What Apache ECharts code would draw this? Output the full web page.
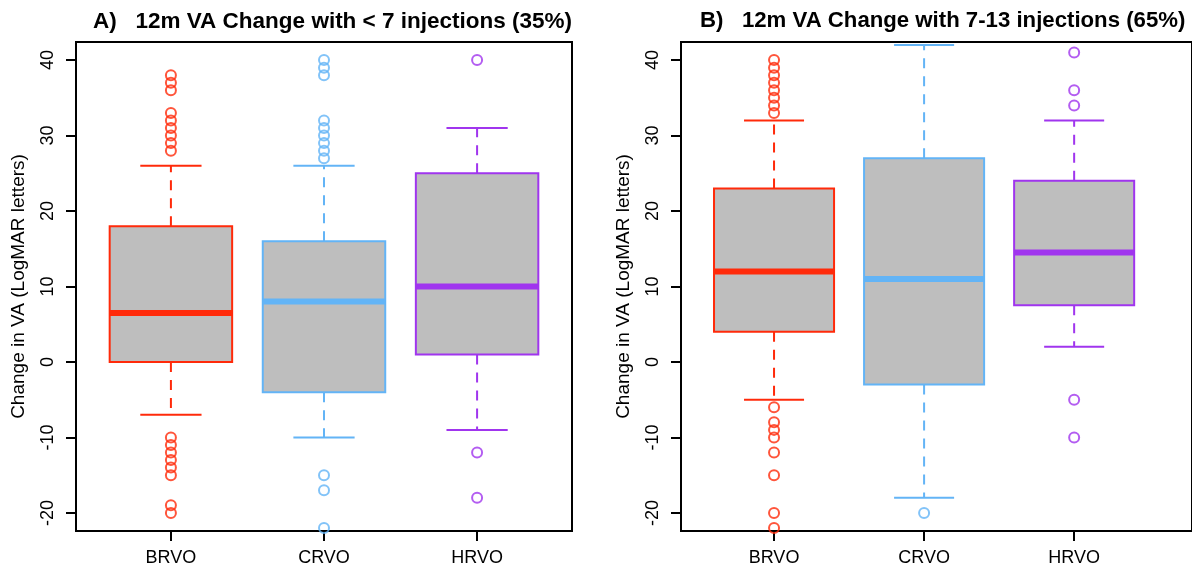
<!DOCTYPE html>
<html>
<head>
<meta charset="utf-8">
<script src="https://cdn.jsdelivr.net/npm/echarts@6/dist/echarts.min.js"></script>
<style>
html, body { margin: 0; padding: 0; background: #fff; }
#chart { width: 1192px; height: 572px; }
</style>
</head>
<body>
<div id="chart"></div>
<script>
const categories = ['BRVO', 'CRVO', 'HRVO'];
const yTicks = [-20, -10, 0, 10, 20, 30, 40];

// [whisker low, Q1, median, Q3, whisker high]
const statsA = [[-7, 0, 6.5, 18, 26], [-10, -4, 8, 16, 26], [-9, 1, 10, 25, 31]];
const statsB = [[-5, 4, 12, 23, 32], [-18, -3, 11, 27, 42], [2, 7.5, 14.5, 24, 32]];

const outA_BRVO = [38, 37, 36, 33, 32, 31, 30, 29, 28, -10, -11, -12, -13, -14, -15, -19, -20];
const outA_CRVO = [40, 39, 38, 32, 31, 30, 29, 28, 27, -15, -17, -22];
const outA_HRVO = [40, -12, -18];
const outB_BRVO = [40, 39, 38, 37, 36, 35, 34, 33, -6, -8, -9, -10, -12, -15, -20, -22];
const outB_CRVO = [-20];
const outB_HRVO = [41, 36, 34, -5, -10];

const colors = ['#ff2a0a', '#63b4f6', '#a035ee'];
const font = 'Liberation Sans, Arial, sans-serif';

const chart = echarts.init(document.getElementById('chart'));

function renderBox(params, api) {
    const x = api.value(0);
    const lo = api.value(1), q1 = api.value(2), med = api.value(3), q3 = api.value(4), hi = api.value(5);
    const c = colors[params.dataIndex];
    const pLo = api.coord([x, lo]), pQ1 = api.coord([x, q1]), pMed = api.coord([x, med]);
    const pQ3 = api.coord([x, q3]), pHi = api.coord([x, hi]);
    const bl = api.coord([x - 0.4, q3])[0], br = api.coord([x + 0.4, q3])[0];
    const cl = api.coord([x - 0.2, hi])[0], cr = api.coord([x + 0.2, hi])[0];
    const dash = { stroke: c, lineWidth: 2, lineDash: [10, 8] };
    const solid = { stroke: c, lineWidth: 2 };
    return {
        type: 'group',
        children: [
            { type: 'line', shape: { x1: pQ3[0], y1: pQ3[1], x2: pHi[0], y2: pHi[1] }, style: dash },
            { type: 'line', shape: { x1: pQ1[0], y1: pQ1[1], x2: pLo[0], y2: pLo[1] }, style: dash },
            { type: 'line', shape: { x1: cl, y1: pHi[1], x2: cr, y2: pHi[1] }, style: solid },
            { type: 'line', shape: { x1: cl, y1: pLo[1], x2: cr, y2: pLo[1] }, style: solid },
            { type: 'rect', shape: { x: bl, y: pQ3[1], width: br - bl, height: pQ1[1] - pQ3[1] },
              style: { fill: '#bebebe', stroke: c, lineWidth: 2 } },
            { type: 'line', shape: { x1: bl, y1: pMed[1], x2: br, y2: pMed[1] }, style: { stroke: c, lineWidth: 6 } }
        ]
    };
}

function outSeries(values, cat, idx) {
    return {
        type: 'scatter',
        xAxisIndex: idx,
        yAxisIndex: idx,
        symbol: 'circle',
        symbolSize: 10,
        itemStyle: { color: 'rgba(0,0,0,0)', borderColor: colors[cat], borderWidth: 2 },
        data: values.map(v => [cat + 1, v])
    };
}

function makeX(idx, max) {
    return {
        type: 'value',
        gridIndex: idx,
        min: 0.38,
        max: max,
        axisLine: { show: false, onZero: false },
        splitLine: { show: false },
        axisTick: { show: true, length: 10, lineStyle: { color: '#000', width: 2 }, customValues: [1, 2, 3] },
        axisLabel: {
            customValues: [1, 2, 3],
            formatter: v => categories[Math.round(v) - 1],
            color: '#000', fontSize: 18, fontFamily: font, margin: 18
        }
    };
}

function makeY(idx) {
    return {
        type: 'value',
        gridIndex: idx,
        min: -22.4,
        max: 42.4,
        name: 'Change in VA (LogMAR letters)',
        nameLocation: 'middle',
        nameGap: 48,
        nameRotate: 90,
        nameTextStyle: { color: '#000', fontSize: 19, fontFamily: font },
        axisLine: { show: false, onZero: false },
        splitLine: { show: false },
        axisTick: { show: true, length: 10, lineStyle: { color: '#000', width: 2 }, customValues: yTicks },
        axisLabel: {
            customValues: yTicks,
            rotate: 90,
            color: '#000', fontSize: 18, fontFamily: font, margin: 19
        }
    };
}

chart.setOption({
    animation: false,
    backgroundColor: '#fff',
    title: [
        { text: 'A)   12m VA Change with < 7 injections (35%)', left: 88, top: 5,
          textStyle: { fontSize: 22.5, fontWeight: 'bold', color: '#000', fontFamily: font } },
        { text: 'B)   12m VA Change with 7-13 injections (65%)', left: 695, top: 5,
          textStyle: { fontSize: 22.2, fontWeight: 'bold', color: '#000', fontFamily: font } }
    ],
    grid: [
        { left: 76, top: 42, width: 496, height: 489, show: true, borderColor: '#000', borderWidth: 2 },
        { left: 681, top: 42, width: 520, height: 489, show: true, borderColor: '#000', borderWidth: 2 }
    ],
    xAxis: [makeX(0, 3.62), makeX(1, 0.38 + 520 / 152.7)],
    yAxis: [makeY(0), makeY(1)],
    series: [
        { type: 'custom', xAxisIndex: 0, yAxisIndex: 0, renderItem: renderBox,
          encode: { x: 0, y: [1, 2, 3, 4, 5] }, data: statsA.map((s, i) => [i + 1].concat(s)) },
        { type: 'custom', xAxisIndex: 1, yAxisIndex: 1, renderItem: renderBox,
          encode: { x: 0, y: [1, 2, 3, 4, 5] }, data: statsB.map((s, i) => [i + 1].concat(s)) },
        outSeries(outA_BRVO, 0, 0),
        outSeries(outA_CRVO, 1, 0),
        outSeries(outA_HRVO, 2, 0),
        outSeries(outB_BRVO, 0, 1),
        outSeries(outB_CRVO, 1, 1),
        outSeries(outB_HRVO, 2, 1)
    ]
});

window.onresize = () => { chart.resize() }
</script>
</body>
</html>
